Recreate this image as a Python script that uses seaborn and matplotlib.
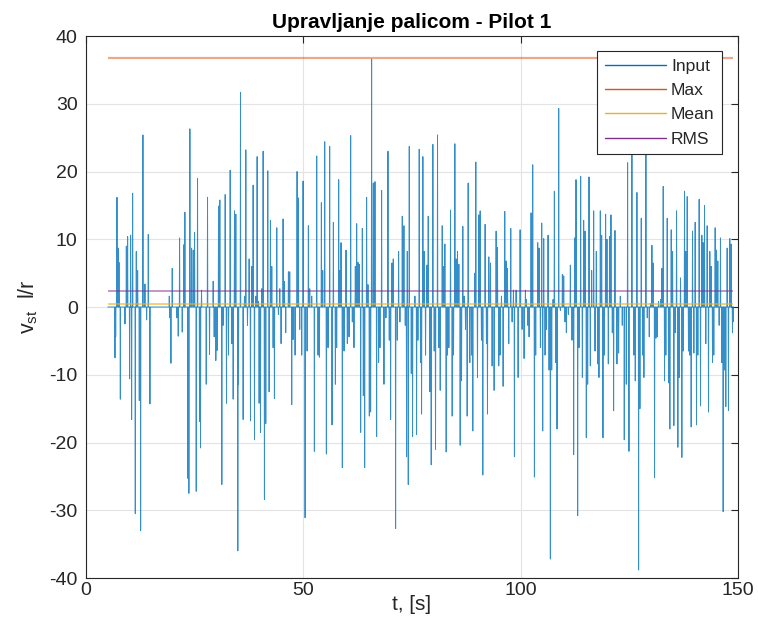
import numpy as np
import pandas as pd
import matplotlib
matplotlib.use("Agg")
import matplotlib.pyplot as plt
import seaborn as sns
from matplotlib.lines import Line2D

# spike times [s] and values, in chunks of time
t_a = [6.66, 6.82, 7.12, 7.43, 7.58, 7.89, 8.96, 9.27, 9.57, 10.03,
       10.26, 10.49, 10.72, 11.33, 11.56, 11.87, 12.25, 12.56, 13.09, 13.55,
       13.94, 14.32, 14.70, 19.15, 19.30, 19.53, 19.83, 20.91, 21.21, 21.52,
       22.13, 22.51, 22.74, 23.43, 23.66, 23.89, 24.28, 24.66, 24.97, 25.35,
       25.65, 26.11, 26.34, 26.57, 27.65, 27.95, 28.41]
v_a = [-7.5, -4.4, 16.2, 8.7, 6.6, -13.6, -2.5, 9.0, 10.4, -10.6,
       10.6, -16.6, 16.8, -30.5, 8.2, 5.4, -13.8, -33.0, 25.4, 3.4,
       -1.9, 10.7, -14.3, 1.6, -1.6, -8.3, 5.7, -1.6, -4.3, 10.2,
       -3.7, 9.2, 14.0, -25.3, -27.5, 26.3, 8.7, 8.4, 11.0, -27.2,
       19.0, -16.9, -20.8, 2.5, -11.4, 16.2, -7.0]

t_b = [29.25, 29.48, 29.86, 30.17, 30.48, 30.78, 31.24, 31.55, 32.01, 32.31,
       32.77, 33.16, 33.54, 33.85, 34.15, 34.46, 34.92, 35.07, 35.53, 36.14,
       36.45, 36.76, 37.14, 37.52, 37.83, 38.14, 38.44, 38.75, 39.05, 39.36,
       39.67, 39.82, 40.13, 40.43, 40.74, 41.04, 41.35, 41.81, 42.12, 42.42,
       42.73, 43.04, 43.34, 43.88, 44.26, 44.57, 44.87, 45.33, 45.64, 45.94,
       46.56, 46.86, 47.32, 47.63, 48.09, 48.55, 48.86, 49.16, 49.62, 49.93,
       50.39, 50.85, 51.15, 51.46, 51.92, 52.53]
v_b = [3.8, -4.4, -7.9, -6.4, 14.9, 15.8, -26.2, -2.7, 16.6, -14.2,
       -7.1, 20.2, -5.4, -13.6, 14.2, 13.7, -36.0, -11.4, 31.7, -16.6,
       1.6, 23.2, -2.7, 7.1, -16.8, 6.0, 18.0, -19.6, 1.6, 22.2,
       0.8, -14.2, -18.5, 2.7, 23.0, -28.4, -17.2, 20.1, -12.5, 12.8,
       6.0, -6.0, -13.5, 11.7, -1.1, 2.7, -5.4, 13.0, 3.8, -3.8,
       5.2, 5.2, -14.4, -4.8, -7.1, 20.0, 16.1, -3.3, -7.1, 18.6,
       -31.1, -6.5, 12.0, 2.7, 1.6, -21.3]

t_c = [53.07, 53.37, 53.68, 54.14, 54.45, 54.91, 55.29, 55.67, 56.05, 56.59,
       56.90, 57.36, 57.66, 58.12, 58.43, 58.66, 58.96, 59.35, 59.81, 60.11,
       60.50, 60.88, 61.26, 61.64, 61.95, 62.26, 62.56, 62.87, 63.18, 63.56,
       63.79, 64.10, 64.55, 64.86, 65.17, 65.47, 65.70, 66.09, 66.47, 66.85,
       67.31, 67.62, 68.00, 68.54, 68.99, 69.46, 69.76, 70.07, 70.38, 70.68,
       71.22, 71.60, 71.91, 72.21, 72.75, 73.13, 73.44, 73.74, 73.90, 74.13,
       74.36, 74.82, 75.12, 75.66, 76.04, 76.35, 76.65]
v_c = [22.3, -7.1, -7.4, 15.4, 5.4, 24.4, -21.7, -6.0, 23.7, -17.4,
       12.5, -11.4, -6.0, 18.8, 5.4, 9.5, -23.7, -6.5, 8.4, -5.4,
       -4.4, 25.3, -2.2, -6.0, 6.0, 12.3, 6.6, 6.3, -18.5, 11.6,
       -13.1, -23.7, 16.2, 3.3, -16.1, -15.5, 36.6, 18.3, 18.5, -19.1,
       -8.2, -6.0, 17.2, -11.4, -1.6, 23.0, -4.9, -16.6, 6.5, 7.1,
       -32.7, -4.9, 8.2, -2.2, 13.4, 12.0, -2.7, -22.1, 8.2, -26.2,
       23.7, -9.8, -19.1, 1.6, -18.8, -4.9, 23.3]

t_d = [76.96, 77.19, 77.49, 77.80, 78.11, 78.41, 78.72, 79.10, 79.41, 79.79,
       80.10, 80.40, 80.86, 81.17, 81.48, 81.94, 82.24, 82.55, 82.85, 83.16,
       83.47, 83.85, 84.23, 84.54, 84.85, 85.15, 85.46, 85.77, 86.07, 86.38,
       86.68, 86.99, 87.30, 87.68, 87.91, 88.29, 88.68, 88.98, 89.44, 89.67,
       90.05, 90.36, 90.67, 90.97, 91.28, 91.81, 92.12, 92.35, 92.66, 93.04,
       93.42, 93.88, 94.34, 94.65, 94.95, 95.26, 95.57, 95.95, 96.33, 96.64,
       96.95, 97.25, 97.71, 98.02, 98.32, 98.55, 98.94, 99.40, 99.86, 100.32,
       100.77]
v_d = [-8.2, -15.8, 22.2, 8.2, -7.1, 6.2, 13.4, -12.5, -23.3, 24.0,
       -6.5, -21.0, 25.4, -6.0, -12.3, 12.0, 6.0, 9.3, -21.4, -7.1,
       -6.0, 14.3, -16.1, -7.1, 24.1, 7.1, 8.2, 6.3, -20.4, -10.9,
       11.9, 1.6, -3.3, -16.1, 18.3, -8.2, -7.1, -18.3, 5.0, 21.4,
       -10.4, 13.6, 14.2, -4.9, -24.8, 12.2, -5.4, -15.8, 7.4, 6.5,
       -8.7, -12.3, 11.2, 8.8, -8.7, -7.1, 1.6, -11.7, 14.1, 6.8,
       5.7, -5.4, 11.6, -2.2, 2.5, -22.1, 2.5, -10.4, 11.4, -3.3,
       -7.6]

t_e = [101.08, 101.31, 101.62, 101.92, 102.38, 102.76, 103.15, 103.45, 103.91, 104.22,
       104.53, 104.83, 105.06, 105.29, 105.60, 105.90, 106.29, 106.52, 106.82, 107.13,
       107.44, 107.74, 108.05, 108.35, 108.74, 109.12, 109.58, 109.89, 110.19, 110.50,
       110.96, 111.42, 111.80, 112.18, 112.41, 112.72, 113.10, 113.41, 113.79, 114.18,
       114.48, 114.79, 115.09, 115.40, 115.71, 116.01, 116.32, 116.78, 117.09, 117.39,
       117.70, 118.00, 118.31, 118.62, 118.92, 119.23, 119.53, 119.84, 120.15, 120.45,
       120.76, 121.07, 121.37, 121.68, 122.14, 122.52, 122.91, 123.36, 123.82, 124.28,
       124.59, 124.90]
v_e = [2.5, 1.1, -2.7, -4.4, 13.9, 21.0, -25.1, -7.1, 9.5, 8.7,
       -6.0, 12.4, -18.3, 10.1, -7.1, -3.3, 10.6, -9.3, -37.2, -9.3,
       1.1, 17.1, -8.2, -18.0, 29.3, -0.5, 4.8, 4.6, -2.2, -3.8,
       -1.1, 6.2, -4.9, -21.8, 10.2, 18.8, -30.8, -6.0, 19.3, -10.4,
       12.8, 11.2, -19.3, -11.4, 19.2, -8.7, 5.4, 14.2, -6.5, 8.2,
       -8.4, -10.4, 14.2, 10.6, -19.3, -7.1, 13.7, 10.0, -8.4, 10.4,
       13.6, -3.8, -15.3, 11.3, -8.4, -6.8, 1.6, -2.7, -19.6, -11.4,
       21.3, -21.3]

t_f = [125.58, 126.04, 126.35, 126.73, 127.12, 127.42, 127.73, 128.03, 128.34, 128.80,
       129.11, 129.57, 129.87, 130.18, 130.48, 130.79, 131.10, 131.40, 131.71, 132.17,
       132.48, 132.78, 133.09, 133.39, 133.70, 134.01, 134.31, 134.62, 134.93, 135.23,
       135.54, 135.85, 136.15, 136.46, 136.76, 137.07, 137.38, 137.68, 137.99, 138.30,
       138.60, 138.91, 139.21, 139.52, 139.83, 140.13, 140.44, 140.75, 141.05, 141.36,
       141.67, 141.97, 142.28, 142.58, 142.89, 143.20, 143.50, 143.81, 144.12, 144.42,
       144.73, 145.04, 145.34, 145.65, 145.95, 146.26, 146.57, 146.87, 147.18, 147.49,
       147.79, 148.10, 148.41, 148.71, 148.86]
v_f = [24.0, -7.1, -10.9, 16.9, -38.8, -15.0, 13.1, -7.1, -10.4, 23.0,
       -1.6, -4.4, 0.5, 9.1, 6.5, -25.2, -4.6, -4.4, 0.8, 1.1,
       5.7, 17.8, -10.9, -7.1, 13.1, -11.2, -18.0, 11.4, 8.2, -17.5,
       -3.8, 14.2, -20.7, -10.4, 4.3, -22.2, -6.5, 17.1, 8.2, 16.3,
       -6.5, -7.1, -17.7, 11.2, -6.8, 12.5, -17.4, -7.1, 15.9, -14.6,
       10.6, 9.5, 15.0, -5.4, 12.0, -15.5, 8.2, 6.0, -8.2, -7.1,
       11.7, 8.4, 6.8, -2.7, 10.2, -8.2, -30.2, -9.3, -14.7, 8.7,
       -15.3, 10.1, 9.3, -3.8, -2.2]

t_start, t_end = 5.0, 148.9
max_val = 36.7
mean_val = 0.45
rms_val = 2.3

spike_t = t_a + t_b + t_c + t_d + t_e + t_f
spike_v = v_a + v_b + v_c + v_d + v_e + v_f
assert len(spike_t) == len(spike_v)

# each spike is a single sample off the zero baseline
half = 0.06
xs, ys = [t_start], [0.0]
for t, v in zip(spike_t, spike_v):
    xs += [t - half, t, t + half]
    ys += [0.0, v, 0.0]
xs.append(t_end)
ys.append(0.0)
df = pd.DataFrame({"t": xs, "v": ys})

sns.set_theme(style="whitegrid")
plt.rcParams["font.family"] = ["Liberation Sans", "DejaVu Sans"]
plt.rcParams["axes.unicode_minus"] = False

c_in, c_max, c_mean, c_rms = "#0072BD", "#D95319", "#EDB120", "#7E2F8E"
dark = "#262626"

fig = plt.figure(figsize=(7.58, 6.18), dpi=100)
ax = fig.add_axes([0.1135, 0.0647, 0.8602, 0.877])

sns.lineplot(data=df, x="t", y="v", ax=ax, estimator=None, sort=False,
             color=c_in, lw=0.7, alpha=0.8)
ax.hlines(max_val, t_start, t_end, color=c_max, alpha=0.5, lw=1.6)
ax.hlines(rms_val, t_start, t_end, color=c_rms, alpha=0.5, lw=1.4)
ax.hlines(mean_val, t_start, t_end, color=c_mean, alpha=0.7, lw=1.2)

ax.set_xlim(0, 150)
ax.set_ylim(-40, 40)
ax.set_xticks([0, 50, 100, 150])
ax.set_yticks(np.arange(-40, 41, 10))
ax.grid(True, color="#e3e3e3", lw=0.8)
for s in ax.spines.values():
    s.set_color(dark)
    s.set_linewidth(0.8)
ax.tick_params(direction="in", top=True, right=True, length=5, width=0.8,
               color=dark, labelcolor=dark, labelsize=14)
ax.tick_params(axis="x", pad=3)
ax.tick_params(axis="y", pad=6)

ax.set_title("Upravljanje palicom - Pilot 1", fontsize=15, fontweight="bold",
             color="black", pad=6)
ax.set_xlabel("t, [s]", fontsize=15, color=dark, labelpad=-3)
ax.set_ylabel(r"v$_\mathregular{st}$  l/r", fontsize=15.5, color=dark, labelpad=7)

handles = [Line2D([], [], color=c, lw=1) for c in (c_in, c_max, c_mean, c_rms)]
leg = ax.legend(handles, ["Input", "Max", "Mean", "RMS"], loc="upper right",
                bbox_to_anchor=(0.9755, 0.9723), fontsize=12.6, frameon=True,
                fancybox=False, framealpha=1, edgecolor=dark, handlelength=3.5,
                labelspacing=0.52, borderpad=0.42, handletextpad=0.3,
                borderaxespad=0)
leg.get_frame().set_linewidth(0.8)

fig.savefig("out.png", dpi=100)
